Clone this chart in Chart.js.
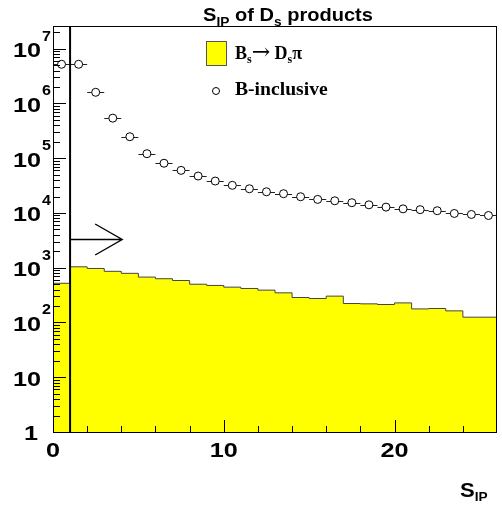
<!DOCTYPE html>
<html>
<head>
<meta charset="utf-8">
<script src="https://cdn.jsdelivr.net/npm/chart.js@4"></script>
<style>
  html, body { margin: 0; padding: 0; background: #fff; }
</style>
</head>
<body>
<canvas id="c" width="502" height="509"></canvas>
<script>
// bins of S_IP, width 1
const binLow = [0, 1, 2, 3, 4, 5, 6, 7, 8, 9, 10, 11, 12, 13, 14, 15, 16, 17, 18, 19, 20, 21, 22, 23, 24, 25];
const binCenter = [0.5, 1.5, 2.5, 3.5, 4.5, 5.5, 6.5, 7.5, 8.5, 9.5, 10.5, 11.5, 12.5, 13.5, 14.5, 15.5, 16.5, 17.5, 18.5, 19.5, 20.5, 21.5, 22.5, 23.5, 24.5, 25.5];
// Bs -> Ds pi (yellow histogram)
const bsDsPi = [520, 1040, 970, 860, 790, 675, 630, 585, 500, 475, 442, 418, 390, 348, 286, 274, 303, 222, 219, 213, 228, 177, 180, 163, 125, 125];
// B-inclusive (open circles)
const bInclusive = [5.2e6, 5.2e6, 1.6e6, 5.4e5, 2.47e5, 1.21e5, 8.1e4, 6.0e4, 4.73e4, 3.83e4, 3.2e4, 2.77e4, 2.44e4, 2.25e4, 1.98e4, 1.77e4, 1.67e4, 1.54e4, 1.41e4, 1.28e4, 1.19e4, 1.15e4, 1.10e4, 9.8e3, 9.4e3, 9.0e3];
const xLabels = [0, 10, 20];
const yDecades = [0, 1, 2, 3, 4, 5, 6, 7];
const xMax = 26, yMin = 1, yMax = 2.6e7;
const cutValue = 1;       // vertical cut line
const arrowLevel = 3300;  // arrow height
const arrowEnd = 4.05;    // arrow tip

const histPoints = binLow.map((x, i) => ({ x: x, y: bsDsPi[i] }));
histPoints.push({ x: xMax, y: bsDsPi[bsDsPi.length - 1] });
const incPoints = binCenter.map((x, i) => ({ x: x, y: bInclusive[i] }));

const SANS = '"Liberation Sans", Arial, sans-serif';
const SERIF = '"Liberation Serif", "Times New Roman", serif';

// draws a run of text pieces with sub/superscripts, sx = horizontal stretch
function drawParts(ctx, parts, x, y, align, sx) {
  sx = sx || 1;
  let total = 0;
  const fontOf = p => (p.weight || 'bold') + ' ' + p.size + 'px ' + (p.family || SANS);
  parts.forEach(p => {
    ctx.font = fontOf(p);
    p.w = ctx.measureText(p.t).width;
    total += p.w;
  });
  const start = align === 'center' ? x - total * sx / 2 : align === 'right' ? x - total * sx : x;
  ctx.save();
  ctx.translate(start, 0);
  ctx.scale(sx, 1);
  ctx.textAlign = 'left';
  ctx.textBaseline = 'alphabetic';
  let cx = 0;
  parts.forEach(p => {
    ctx.font = fontOf(p);
    ctx.fillText(p.t, cx, y + (p.dy || 0));
    cx += p.w;
  });
  ctx.restore();
}

const rootLook = {
  id: 'rootLook',
  beforeDatasetDraw(chart, args) {
    if (args.index !== 1) return;
    const ctx = chart.ctx, xs = chart.scales.x, ys = chart.scales.y;
    ctx.save();
    ctx.strokeStyle = '#222';
    ctx.lineWidth = 1;
    binCenter.forEach((x, i) => {
      const py = Math.round(ys.getPixelForValue(bInclusive[i])) + 0.5;
      ctx.beginPath();
      ctx.moveTo(xs.getPixelForValue(x - 0.5), py);
      ctx.lineTo(xs.getPixelForValue(x + 0.5), py);
      ctx.stroke();
    });
    ctx.restore();
  },
  afterDatasetsDraw(chart) {
    const ctx = chart.ctx, xs = chart.scales.x, ys = chart.scales.y;
    const a = chart.chartArea;
    ctx.save();
    ctx.fillStyle = '#000';
    ctx.strokeStyle = '#000';

    // cut line and arrow
    const cx = xs.getPixelForValue(cutValue);
    ctx.lineWidth = 2;
    ctx.beginPath();
    ctx.moveTo(cx, a.top);
    ctx.lineTo(cx, a.bottom);
    ctx.stroke();
    const ay = Math.round(ys.getPixelForValue(arrowLevel)) + 0.5;
    const tip = xs.getPixelForValue(arrowEnd);
    ctx.lineWidth = 1.4;
    ctx.beginPath();
    ctx.moveTo(cx, ay);
    ctx.lineTo(tip, ay);
    ctx.moveTo(tip - 27, ay - 15.5);
    ctx.lineTo(tip, ay);
    ctx.lineTo(tip - 27, ay + 15.5);
    ctx.stroke();

    // frame
    ctx.lineWidth = 1;
    ctx.strokeRect(Math.round(a.left) + 0.5, Math.round(a.top) + 0.5,
      Math.round(a.right - a.left) - 1, Math.round(a.bottom - a.top));

    // y ticks (inside)
    yDecades.forEach(d => {
      for (let m = 1; m <= 9; m++) {
        const v = m * Math.pow(10, d);
        if (v > yMax) break;
        const py = Math.round(ys.getPixelForValue(v)) + 0.5;
        ctx.beginPath();
        ctx.moveTo(a.left, py);
        ctx.lineTo(a.left + (m === 1 ? 13 : 7), py);
        ctx.stroke();
      }
    });
    // x ticks (inside)
    for (let v = 2; v < xMax; v += 2) {
      const px = Math.round(xs.getPixelForValue(v)) + 0.5;
      ctx.beginPath();
      ctx.moveTo(px, a.bottom);
      ctx.lineTo(px, a.bottom - (v % 10 === 0 ? 12 : 6));
      ctx.stroke();
    }

    // y labels
    yDecades.forEach(d => {
      const py = ys.getPixelForValue(Math.pow(10, d));
      if (d === 0) {
        drawParts(ctx, [{ t: '1', size: 21 }], 38, py + 8, 'right', 1.2);
      } else {
        drawParts(ctx, [{ t: '10', size: 21 }], 41, py + 8.5, 'right', 1.2);
        if (d > 1) drawParts(ctx, [{ t: String(d), size: 14 }], 42, py - 8, 'left', 1.15);
      }
    });
    // x labels
    xLabels.forEach(v => {
      drawParts(ctx, [{ t: String(v), size: 21 }], xs.getPixelForValue(v), 457, 'center', 1.2);
    });

    // titles
    drawParts(ctx, [
      { t: 'S', size: 19 }, { t: 'IP', size: 13, dy: 4.5 }, { t: ' of D', size: 19 },
      { t: 's', size: 13, dy: 4.5 }, { t: ' products', size: 19 }
    ], 288, 21, 'center', 1.055);
    drawParts(ctx, [{ t: 'S', size: 21 }, { t: 'IP', size: 13, dy: 4 }], 460, 497, 'left', 1.05);

    // legend
    ctx.fillStyle = '#ffff00';
    ctx.fillRect(206, 41, 20, 24);
    ctx.strokeStyle = '#555';
    ctx.strokeRect(206.5, 41.5, 20, 24);
    ctx.fillStyle = '#000';
    drawParts(ctx, [
      { t: 'B', size: 18, family: SERIF }, { t: 's', size: 12, dy: 4, family: SERIF },
      { t: '\u2192', size: 22, weight: 'normal', family: '"DejaVu Serif", serif', dy: 0.5 },
      { t: ' D', size: 18, family: SERIF }, { t: 's', size: 12, dy: 4, family: SERIF },
      { t: '\u03c0', size: 18, family: SERIF }
    ], 235, 58.5, 'left', 1.0);
    drawParts(ctx, [{ t: 'B-inclusive', size: 18, family: SERIF }], 235, 95, 'left', 1.09);
    ctx.strokeStyle = '#000';
    ctx.fillStyle = '#fff';
    ctx.beginPath();
    ctx.arc(216, 91, 3.5, 0, Math.PI * 2);
    ctx.fill();
    ctx.stroke();
    ctx.restore();
  }
};

new Chart(document.getElementById('c'), {
  type: 'line',
  data: {
    datasets: [
      {
        label: 'Bs -> Ds pi',
        data: histPoints,
        stepped: 'before',
        fill: 'start',
        backgroundColor: '#ffff00',
        borderColor: '#444',
        borderWidth: 1,
        pointRadius: 0
      },
      {
        label: 'B-inclusive',
        data: incPoints,
        showLine: false,
        pointStyle: 'circle',
        pointRadius: 4,
        pointBorderWidth: 1,
        pointBackgroundColor: '#fff',
        pointBorderColor: '#000'
      }
    ]
  },
  options: {
    responsive: false,
    animation: false,
    layout: { padding: { left: 53, right: 4, top: 26, bottom: 77 } },
    plugins: { legend: { display: false }, tooltip: { enabled: false }, title: { display: false } },
    scales: {
      x: { type: 'linear', min: 0, max: xMax, display: false },
      y: { type: 'logarithmic', min: yMin, max: yMax, display: false }
    }
  },
  plugins: [rootLook]
});
</script>
</body>
</html>
